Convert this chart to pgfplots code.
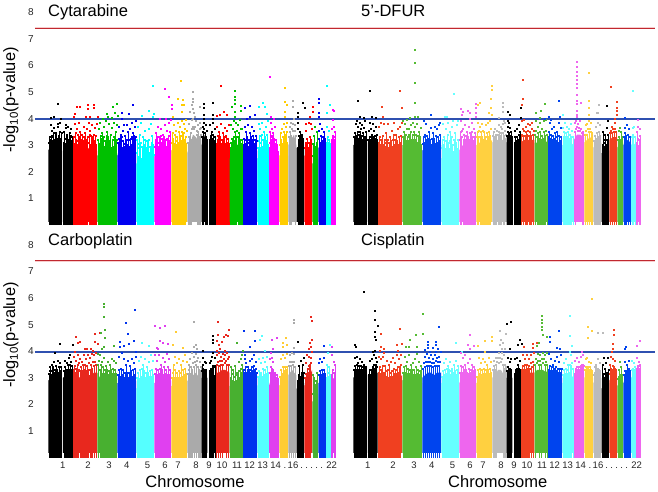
\documentclass[border=0pt]{standalone}
\usepackage{fontspec}
\setmainfont{Liberation Sans}
\usepackage{pgfplots}
\pgfplotsset{compat=1.18}
\definecolor{lred}{HTML}{C02830}
\definecolor{lhalo}{HTML}{F8CCCC}
\definecolor{lblue}{HTML}{2F50B0}
\newcommand\C[5]{\addplot[fill=#1,draw=none] coordinates {(#2,\base) #4 (#3,\base)};
\addplot[ycomb,mark=none,color=#1,line width=.22pt,restrict y to domain=0:3.5,unbounded coords=discard] coordinates {#5};
\addplot[only marks,mark=square*,mark size=.5pt,color=#1,mark options={color=#1,fill=#1,line width=0pt}] coordinates {#5};}
\newcommand\setpal[7]{\definecolor{R}{HTML}{#1}\definecolor{G}{HTML}{#2}\definecolor{B}{HTML}{#3}\definecolor{Y}{HTML}{#4}\definecolor{M}{HTML}{#5}\definecolor{O}{HTML}{#6}\definecolor{A}{HTML}{#7}}
\pgfplotsset{panel/.style={scale only axis,height=218.12pt,ymin=0,ymax=8.2,xmin=35,
  axis line style={draw=none},major tick length=0pt,clip=false,
  ytick=\empty,xtick=\empty,
  tick label style={font=\fontsize{10}{11}\selectfont,color=black!85,inner sep=0pt},
  /pgf/number format/assume math mode=true},
 left/.style={width=310pt,xmax=345,ytick={1,2,3,4,5,6,7,8},yticklabel style={xshift=-1pt}},
 right/.style={width=315pt,xmax=350},
 chrt/.style={xtick={62.7,88,109,126.7,147.5,165,178,196,209,222,237,249.7,262.7,275.7,285,293,301.7,306.7,311.7,316.7,321.7,331.7},
  xticklabels={1,2,3,4,5,6,7,8,9,10,11,12,13,14,.,16,.,.,.,.,.,22},
  xticklabel style={yshift=-4pt,text height=6.9pt,text depth=0pt,font=\fontsize{9.5}{11}\selectfont}}}
\newcommand\lines[1]{\addplot[lhalo,line width=2.6pt] coordinates {(35,7.4)(350,7.4)};
\addplot[lred,line width=1.1pt] coordinates {(35,7.4)(350,7.4)};
\addplot[lblue,line width=1.5pt] coordinates {(35,#1)(350,#1)};}
\begin{document}
\begin{tikzpicture}[x=1pt,y=1pt]
\useasboundingbox (0,0) rectangle (658,491);
% ---------- Cytarabine
\setpal{FF0000}{00C000}{0000F0}{00FFFF}{FF00FF}{FFCC00}{AAAAAA}
\begin{axis}[panel,left,at={(35pt,266pt)},anchor=origin]
\def\base{0.12}
\C{black}{48.3}{62}{(48.3,2.8)(51,3.0)(54,2.9)(57,3.1)(60,3.0)(62,2.8)}{(57.7,4.55)(51,4.03)(54.3,4.05)(61,4.0)(50.5,3.75)(52,3.55)(54,3.65)(56,3.4)(57.5,3.8)(58,3.7)(59.5,3.5)(60,3.85)(53,3.3)(55.5,3.45)(49,3.1)(49.5,3.3)(50.5,3.2)(51.5,3.35)(52.5,3.15)(53.5,3.45)(54.5,3.2)(55,3.1)(56.5,3.25)(57,3.15)(58.5,3.35)(59,3.2)(60.5,3.25)(61,3.1)(61.5,3.45)}
\C{black}{63}{72.7}{(63,2.8)(66,3.0)(69,2.9)(72.7,2.9)}{(64,3.5)(65.5,3.65)(67,3.4)(68,3.7)(69.5,3.45)(71,3.6)(66,3.75)(70.5,3.35)(63.5,3.1)(64.5,3.25)(65,3.05)(66.5,3.3)(67.5,3.1)(68.5,3.2)(70,3.1)(71.5,3.15)(72,3.3)}
\C{R}{73}{97}{(73,2.7)(76,2.9)(79,2.8)(82,2.9)(85,2.7)(88,2.9)(91,2.8)(94,2.9)(97,2.8)}{(74.7,4.17)(74,4.05)(77,4.43)(80.3,4.43)(88.3,4.37)(87.7,4.5)(94.3,4.5)(94.3,4.38)(86,4.05)(90,4.05)(97.7,4.07)(75,3.8)(77,3.6)(79,3.85)(80,3.5)(82,3.4)(83.5,3.7)(85,3.45)(87,3.6)(88.5,3.85)(90,3.55)(92,3.75)(93.5,3.4)(95,3.65)(96.5,3.8)(78,3.4)(91,3.35)(73.5,3.3)(74.5,3.05)(75.5,3.45)(76,3.2)(77,3.0)(78,3.15)(79,3.3)(79.5,3.05)(81,3.2)(81.5,3.0)(83,3.15)(84,3.3)(84.5,2.95)(86,3.2)(86.5,3.0)(87.5,3.3)(89,3.1)(89.5,3.4)(90.5,3.0)(91.5,3.15)(92.5,3.3)(93,3.0)(94.5,3.15)(95.5,3.35)(96,3.0)}
\C{G}{97.3}{117}{(97.3,2.6)(100,2.7)(103,2.6)(106,2.7)(109,2.5)(112,2.7)(115,2.6)(117,2.7)}{(106.7,4.17)(117.3,4.55)(113.3,4.45)(115,4.2)(103,4.0)(108.3,4.05)(111.7,4.03)(118,4.1)(98.5,3.6)(100,3.85)(102,3.45)(104,3.7)(105.5,3.9)(107,3.5)(109,3.8)(110.5,3.4)(112,3.65)(114,3.85)(115.5,3.5)(116.5,3.75)(101,3.25)(108,3.3)(98,3.2)(98.5,2.9)(99.5,3.05)(100.5,3.35)(101.5,2.85)(102.5,3.1)(103.5,3.3)(104,2.95)(105,3.15)(106,2.85)(106.5,3.35)(107.5,3.05)(108.5,2.85)(109.5,3.15)(110,3.0)(111,2.9)(112.5,3.2)(113,2.95)(114,3.3)(115,3.0)(116,2.85)(116.5,3.2)}
\C{B}{117.3}{136}{(117.3,2.6)(120,2.8)(123,2.6)(126,2.8)(129,2.7)(132,2.9)(136,2.7)}{(122,4.22)(129,4.17)(133.3,4.5)(121.7,3.98)(119,3.7)(120.5,3.4)(122.5,3.55)(125,3.35)(126.5,3.75)(128,3.5)(130,3.6)(131.5,3.85)(133,3.45)(134.5,3.7)(135.5,3.9)(124,3.75)(118,3.1)(119,3.25)(119.5,2.95)(120.5,3.1)(121.5,3.3)(122,2.9)(123,3.15)(124,2.95)(125,3.05)(125.5,2.85)(126.5,3.2)(127.5,3.0)(128.5,3.2)(129.5,2.95)(130.5,3.25)(131,3.0)(132,3.3)(132.5,3.05)(133.5,3.15)(134,3.35)(135,3.1)(135.5,3.3)}
\C{Y}{136.3}{154}{(136.3,2.3)(139,2.4)(142,2.3)(145,2.4)(148,2.3)(151,2.4)(154,2.5)}{(153.3,5.24)(142,4.1)(149.3,4.28)(154,4.17)(152.7,4.07)(138,3.7)(139.5,3.4)(141,3.85)(143,3.3)(145,3.55)(147,3.15)(149,3.6)(150.5,3.8)(152,3.35)(137,3.2)(144,3.0)(148,2.95)(137,2.7)(137.5,2.9)(138.5,2.55)(139,3.05)(140,2.7)(140.5,3.1)(141.5,2.5)(142,2.95)(143,2.6)(143.5,2.8)(144.5,2.55)(145,3.2)(146,2.65)(146.5,2.9)(147.5,2.55)(148.5,3.2)(149,2.7)(150,2.95)(151,2.6)(151.5,3.1)(152.5,2.8)(153,3.0)(153.5,2.65)}
\C{M}{154.3}{171}{(154.3,2.6)(157,2.8)(160,2.6)(163,2.7)(166,2.7)(169,2.9)(171,2.8)}{(164.7,5.11)(169,4.8)(172,4.5)(172,4.35)(160,4.0)(165.7,3.98)(158,3.7)(156,3.45)(159,3.3)(161,3.6)(163,3.4)(165,3.75)(167,3.55)(169,3.85)(170.5,3.95)(162,3.25)(155,2.95)(155.5,3.2)(156.5,3.05)(157,3.3)(158,2.95)(159,3.1)(160,2.9)(160.5,3.35)(161.5,3.1)(162,2.95)(163,3.15)(164,3.3)(164.5,3.0)(165.5,3.2)(166,2.95)(167,3.25)(167.5,3.05)(168.5,3.35)(169.5,3.15)(170,3.5)}
\C{O}{171.3}{187}{(171.3,2.8)(174,2.9)(177,2.8)(180,3.0)(183,3.0)(187,3.1)}{(181,5.42)(177.7,4.75)(183.3,4.7)(181.7,4.5)(184.3,4.5)(181.7,4.26)(173,4.07)(174,3.75)(176,3.55)(178,3.85)(180,3.7)(182,3.9)(184,3.8)(186,3.95)(172.5,3.45)(172,3.1)(173,3.25)(174,3.05)(175,3.4)(175.5,3.15)(176.5,3.0)(177,3.3)(178,3.1)(179,3.5)(179.5,3.2)(180.5,3.35)(181,3.15)(182,3.5)(182.5,3.25)(183.5,3.45)(184,3.2)(185,3.6)(185.5,3.3)(186.5,3.55)}
\C{A}{187.3}{201.3}{(187.3,2.7)(190,3.0)(193,3.4)(196,3.3)(199,3.1)(201.3,3.2)}{(192.7,5.0)(192.7,4.75)(193.3,4.62)(191.7,4.5)(190,4.25)(192.7,4.37)(195,4.07)(200,4.45)(194,4.2)(192,3.95)(189,3.8)(196,3.9)(198,3.75)(200,3.85)(193,4.0)(188,3.1)(189,3.3)(189.5,3.1)(190.5,3.45)(191,3.2)(191.5,3.6)(192.5,3.7)(194,3.6)(195,3.7)(196.5,3.55)(197,3.4)(198,3.5)(199,3.3)(199.5,3.6)(200.5,3.4)(201,3.65)}
\C{black}{201.7}{207.3}{(201.7,3.0)(204,3.4)(207.3,3.0)}{(203.7,4.55)(203.7,4.38)(203.7,4.13)(203.7,4.0)(204,3.85)(202.5,3.7)(205.5,3.75)(206.5,3.55)(202,3.3)(203,3.5)(204,3.6)(205,3.45)(206,3.3)(207,3.2)}
\C{black}{209}{215.7}{(209,2.9)(212,3.0)(215.7,2.9)}{(213.3,4.57)(213.3,4.13)(213.3,4.0)(210,3.75)(211.5,3.5)(212.5,3.85)(214.5,3.6)(209.5,3.2)(210.5,3.35)(211,3.15)(212,3.25)(213,3.4)(214,3.15)(215,3.3)}
\C{R}{216}{229.3}{(216,2.8)(219,2.9)(222,2.8)(225,2.9)(229.3,2.8)}{(221,5.21)(217,4.1)(220,4.13)(224,4.26)(226.7,4.13)(217,3.7)(219,3.5)(221,3.8)(223,3.45)(225,3.65)(227,3.55)(228.5,3.75)(218,3.35)(216.5,3.05)(217.5,3.2)(218.5,3.0)(219.5,3.15)(220,3.3)(221,3.05)(222,3.2)(222.5,3.0)(223.5,3.15)(224.5,3.3)(225.5,3.05)(226,3.35)(227,3.1)(228,3.25)(229,3.05)}
\C{G}{229.7}{242.7}{(229.7,2.5)(232,2.7)(235,3.1)(238,3.0)(241,2.8)(242.7,2.6)}{(234.7,5.05)(235.3,4.82)(235.3,4.7)(235.3,4.55)(240.7,4.47)(232.3,4.42)(235,4.25)(235,4.07)(240.7,4.3)(231,3.75)(233,3.6)(234,3.9)(236,3.85)(238,3.75)(239.5,3.95)(241.5,3.6)(230.5,2.9)(231,3.1)(232,3.25)(232.5,2.95)(233.5,3.3)(234,3.15)(235,3.5)(236,3.3)(237,3.55)(238,3.3)(239,3.45)(240,3.2)(240.5,3.6)(241,3.05)(242,3.2)}
\C{B}{243}{257}{(243,2.7)(246,2.8)(249,2.7)(252,2.8)(255,2.7)(257,2.8)}{(250,4.47)(245.3,4.38)(255,4.13)(250,4.07)(246.7,4.0)(244.5,3.7)(246,3.5)(248,3.75)(250,3.45)(252,3.7)(254,3.55)(256,3.35)(247,3.3)(243.5,3.0)(244,3.25)(245,3.05)(246,3.2)(246.5,2.95)(247.5,3.1)(248,2.95)(249,3.2)(250,3.05)(251,3.3)(251.5,3.0)(252.5,3.2)(253,3.35)(254,3.05)(255,3.2)(256,3.0)(256.5,3.15)}
\C{Y}{257.3}{268.7}{(257.3,2.5)(260,2.6)(263,2.7)(266,2.6)(268.7,2.6)}{(263,4.58)(258.7,4.45)(265,4.45)(266.7,4.17)(258.5,3.8)(260,3.6)(262,3.85)(264,3.5)(266,3.7)(267.5,3.9)(258,2.9)(259,3.15)(259.5,3.35)(260.5,2.9)(261,3.1)(261.5,3.4)(262.5,2.95)(263,3.2)(264,3.0)(265,3.3)(265.5,2.95)(266.5,3.15)(267,3.4)(268,3.0)}
\C{M}{269}{279}{(269,2.5)(272,2.7)(275,2.6)(279,2.5)}{(269.7,5.56)(270.7,4.07)(274,3.97)(271,3.85)(272,3.6)(273,3.45)(274.5,3.7)(270,3.5)(276,3.2)(269.5,2.9)(270,3.1)(270.5,3.3)(271,2.95)(271.5,3.2)(272,3.35)(273,3.0)(274,3.25)(274.5,2.9)(275,3.05)(276,2.8)(277,3.0)(278,2.75)}
\C{O}{279.3}{288}{(279.3,2.6)(282,2.7)(285,3.0)(288,2.6)}{(285,5.14)(285,4.63)(287.3,4.5)(285,4.26)(285,4.07)(284,3.8)(286,3.7)(282,3.6)(280.5,3.45)(287,3.85)(280,3.0)(281,3.2)(282,3.05)(283,3.3)(283.5,3.0)(284,3.5)(285,3.4)(286,3.25)(286.5,3.5)(287,3.1)}
\C{A}{288.3}{296.3}{(288.3,3.0)(291,3.2)(294,3.4)(296.3,3.0)}{(293.3,4.68)(293.3,4.45)(294,4.0)(291,3.85)(289.5,3.7)(293,3.8)(295,3.75)(289,3.3)(290,3.5)(291,3.35)(292,3.6)(293,3.55)(294.5,3.55)(295.5,3.35)}
\C{black}{296.7}{304}{(296.7,2.9)(300,3.0)(304,2.9)}{(302.7,4.6)(304.7,4.4)(297.7,4.2)(298,4.05)(298,3.85)(300,3.5)(302,3.4)(297.5,3.6)(298.5,3.2)(299,3.35)(300,3.15)(301,3.3)(302,3.1)(303,3.25)}
\C{R}{304.3}{312}{(304.3,2.6)(308,2.7)(312,3.0)}{(312.7,4.45)(310,4.05)(312.7,4.26)(306,3.8)(308.5,3.85)(311,3.8)(305.5,3.55)(311.5,3.6)(305,2.9)(305.5,3.1)(306.5,3.0)(307,3.25)(308,2.9)(309,3.1)(310,3.3)(310.5,3.0)(311,3.2)}
\C{G}{312.3}{318}{(312.3,2.3)(315,2.4)(318,2.5)}{(315,3.7)(314,3.35)(316.5,3.1)(313,3.05)(317,3.5)(313,2.6)(313.5,2.8)(314.5,2.65)(315,2.95)(316,2.7)(317,2.85)}
\C{B}{318.3}{325.7}{(318.3,2.9)(322,3.0)(325.7,3.0)}{(319.3,4.72)(319.3,4.6)(319.3,4.2)(319.3,4.05)(320,3.8)(322,3.6)(324,3.5)(318.7,3.55)(319,3.25)(320,3.1)(321,3.35)(322,3.15)(323,3.3)(324,3.15)(325,3.25)}
\C{Y}{326}{330.7}{(326,2.8)(328,3.0)(330.7,2.9)}{(327.3,5.22)(330,4.5)(327.3,4.22)(327,3.7)(329,3.55)(326.5,3.1)(327.5,3.3)(328,3.1)(329,3.2)(330,3.05)}
\C{M}{331}{335.7}{(331,2.9)(333,3.1)(335.7,3.0)}{(333.3,4.32)(334.3,4.28)(332.7,3.95)(332,3.6)(334,3.7)(335,3.5)(331.5,3.2)(332.5,3.35)(333.5,3.3)(334.5,3.2)(335,3.3)}
\lines{3.98}
\end{axis}
% ---------- 5'-DFUR
\setpal{F04020}{55BB33}{0044EE}{66FFFF}{EE66EE}{FFD040}{BBBBBB}
\begin{axis}[panel,right,at={(340pt,266pt)},anchor=origin]
\def\base{0.12}
\C{black}{48.3}{62}{(48.3,3.0)(51,3.1)(54,3.0)(57,3.1)(60,3.0)(62,3.1)}{(53,4.66)(55,4.07)(59.3,4.03)(51,3.8)(52,3.9)(53,3.7)(54.5,3.85)(56,3.6)(57,3.75)(59,3.65)(60,3.9)(55,3.5)(49,3.3)(50,3.45)(50.5,3.2)(51.5,3.35)(52.5,3.5)(53,3.25)(54,3.4)(55.5,3.2)(56.5,3.35)(57.5,3.2)(58,3.45)(59,3.25)(60,3.3)(61,3.5)(61.5,3.2)}
\C{black}{63}{72.7}{(63,2.9)(66,3.1)(69,3.1)(72.7,3.0)}{(65,5.04)(66.7,4.07)(70.7,4.03)(65,3.85)(66,3.6)(67.5,3.8)(69,3.55)(71,3.7)(64,3.55)(63.5,3.2)(64.5,3.3)(65.5,3.2)(66.5,3.4)(67.5,3.3)(68.5,3.25)(69.5,3.35)(70.5,3.25)(71.5,3.4)(72,3.2)}
\C{R}{73}{97}{(73,2.8)(76,2.7)(79,2.7)(82,2.6)(85,2.6)(88,2.7)(91,2.7)(94,2.8)(97,2.9)}{(94.7,5.04)(76.7,4.45)(96.7,4.4)(78,4.05)(74,3.7)(76,3.85)(79,3.8)(81,3.45)(83,3.8)(85,3.3)(87,3.55)(89,3.85)(91,3.4)(93,3.6)(95,3.7)(96.5,3.85)(73.5,3.1)(74.5,3.3)(75,3.0)(76,3.2)(77,2.95)(77.5,3.35)(78.5,3.0)(79.5,3.2)(80,2.95)(81,3.1)(82,2.85)(82.5,3.2)(83.5,2.9)(84,3.1)(85.5,2.9)(86,3.15)(87,2.95)(88,3.2)(88.5,3.4)(89.5,3.0)(90,3.2)(91,2.95)(92,3.15)(93,3.0)(94,3.3)(95,3.1)(96,3.35)}
\C{G}{97.3}{117}{(97.3,3.0)(100,3.0)(103,2.9)(106,2.8)(109,2.9)(112,3.0)(115,2.9)(117,2.8)}{(109.7,6.59)(109.7,6.08)(109.7,5.33)(109.7,4.57)(105,4.03)(110,4.07)(112.7,4.07)(98,3.9)(100,3.8)(102,3.95)(104,3.6)(106,3.75)(108,3.85)(110,3.7)(112,3.8)(114,3.5)(116,3.65)(98,3.3)(99,3.5)(99.5,3.2)(100.5,3.4)(101,3.15)(102,3.6)(102.5,3.3)(103.5,3.15)(104,3.4)(105,3.1)(105.5,3.5)(106.5,3.2)(107,3.05)(107.5,3.4)(108.5,3.2)(109,3.5)(110.5,3.2)(111,3.4)(112,3.1)(113,3.35)(113.5,3.1)(114.5,3.05)(115,3.3)(116,3.0)}
\C{B}{117.3}{136}{(117.3,2.8)(120,2.9)(123,2.8)(126,2.8)(129,2.8)(132,2.9)(136,3.0)}{(126,4.15)(119,3.9)(121,3.8)(124,3.5)(126,3.65)(128,3.45)(130,3.7)(132,3.6)(134,3.75)(135,3.85)(122,3.35)(118,3.05)(118.5,3.3)(119.5,3.1)(120,3.4)(121,3.2)(122,3.05)(123,3.25)(124,3.05)(125,3.2)(126,3.0)(127,3.25)(128,3.05)(129,3.25)(130,3.05)(131,3.35)(132,3.1)(133,3.3)(134,3.15)(135,3.4)}
\C{Y}{136.3}{154}{(136.3,2.5)(139,2.6)(142,2.7)(145,2.6)(148,2.5)(151,2.6)(154,2.7)}{(149,4.93)(140,4.07)(142.3,4.07)(148,3.9)(138,3.8)(141,3.6)(143,3.85)(145,3.5)(147,3.7)(150,3.45)(152,3.75)(153,3.9)(137,2.9)(137.5,3.2)(138.5,3.0)(139,3.3)(140,2.85)(141,3.15)(142,2.95)(142.5,3.4)(143.5,3.1)(144,2.85)(145,3.15)(146,2.8)(146.5,3.3)(147.5,3.0)(148.5,2.75)(149,3.2)(150,2.9)(151,3.1)(152,2.85)(153,3.2)}
\C{M}{154.3}{171}{(154.3,2.8)(157,3.0)(160,2.9)(163,2.9)(166,2.9)(169,3.0)(171,3.0)}{(156,4.36)(158.3,4.26)(163.3,4.3)(157.3,4.13)(165.3,4.2)(170.7,4.55)(170.7,4.38)(171,4.2)(171,4.05)(165,4.0)(156,3.9)(158,3.6)(160,3.75)(162,3.5)(164,3.7)(167,3.85)(169,3.6)(155,3.2)(155.5,3.5)(156.5,3.3)(157,3.55)(158.5,3.2)(159,3.4)(160,3.2)(161,3.35)(162,3.15)(163,3.3)(164,3.2)(165,3.45)(166,3.15)(166.5,3.5)(167.5,3.3)(168,3.15)(169,3.3)(170,3.45)}
\C{O}{171.3}{187}{(171.3,3.0)(174,3.1)(177,3.1)(180,2.9)(183,3.0)(187,3.2)}{(186.7,5.21)(186.7,5.08)(186,4.72)(175,4.57)(173.3,4.5)(186,4.38)(184.3,4.2)(186.7,4.15)(173,3.85)(175,3.7)(177,3.8)(179,3.5)(181,3.75)(183,3.85)(185,3.9)(172,3.3)(172.5,3.5)(173.5,3.3)(174,3.55)(175,3.3)(176,3.5)(177,3.3)(178,3.55)(178.5,3.2)(179.5,3.1)(180.5,3.3)(181,3.15)(182,3.45)(183,3.3)(184,3.5)(185,3.35)(186,3.6)}
\C{A}{187.3}{201.3}{(187.3,3.1)(190,3.2)(193,3.2)(196,3.2)(199,3.2)(201.3,3.3)}{(198.3,4.58)(198.3,4.45)(198.3,4.26)(194,4.03)(199,3.9)(194,3.75)(190,3.6)(196,3.7)(198,3.8)(200,3.85)(188,3.35)(188.5,3.5)(189,3.3)(190.5,3.4)(191,3.3)(192,3.55)(193,3.4)(194,3.5)(195,3.35)(196,3.45)(197,3.6)(198,3.45)(199,3.35)(200,3.55)(201,3.4)}
\C{black}{201.7}{207.3}{(201.7,3.1)(204,3.3)(207.3,3.1)}{(203.3,4.26)(205,4.13)(204,3.85)(203,3.7)(205,3.65)(202.5,3.9)(202,3.35)(203,3.5)(204,3.45)(205,3.35)(206,3.5)(207,3.3)}
\C{black}{209}{215.7}{(209,2.8)(212,3.0)(215.7,3.0)}{(216,4.4)(215.7,4.03)(210,3.55)(212,3.6)(214,3.75)(215,3.5)(209.5,3.1)(210,3.3)(211,3.15)(212,3.3)(213,3.2)(214,3.4)(215,3.2)}
\C{R}{216}{229.3}{(216,3.1)(219,3.2)(222,3.2)(225,3.2)(229.3,3.2)}{(218.3,5.47)(218.3,4.75)(216.7,4.5)(217,3.9)(219,3.95)(221,3.7)(223,3.8)(225,3.75)(227,3.85)(216.5,3.4)(217.5,3.6)(218,3.35)(219,3.55)(220,3.35)(221,3.5)(222,3.4)(223,3.55)(224,3.35)(225,3.5)(226,3.35)(227,3.6)(228,3.4)(229,3.55)}
\C{G}{229.7}{242.7}{(229.7,3.1)(232,3.1)(235,3.0)(238,3.0)(241,3.1)(242.7,3.2)}{(235.7,4.3)(239.7,4.56)(230.7,4.2)(235,4.03)(231,3.9)(233,3.7)(235,3.85)(237,3.6)(239,3.9)(241,3.95)(230,3.4)(231,3.55)(232,3.3)(233,3.45)(234,3.25)(235,3.5)(236,3.2)(237,3.35)(238,3.25)(239,3.5)(240,3.35)(241,3.55)(242,3.4)}
\C{B}{243}{257}{(243,3.0)(246,3.0)(249,3.0)(252,2.9)(255,2.9)(257,3.0)}{(253.7,4.66)(244,4.05)(255,4.07)(240,4.0)(245,3.85)(247,3.6)(249,3.7)(252,3.5)(254,3.85)(255.5,3.65)(246,3.95)(243.5,3.3)(244,3.5)(245,3.25)(246,3.4)(247,3.2)(248,3.35)(249,3.25)(250,3.45)(251,3.15)(252,3.3)(253,3.1)(254,3.35)(255,3.15)(256,3.3)}
\C{Y}{257.3}{268.7}{(257.3,3.0)(260,3.1)(263,3.1)(266,3.1)(268.7,3.0)}{(258.3,4.13)(260,3.85)(262,3.7)(264,3.6)(266,3.8)(258,3.65)(258.5,3.3)(259,3.5)(260,3.3)(261,3.45)(262,3.3)(263,3.5)(264,3.25)(265,3.4)(266,3.3)(267,3.55)(268,3.3)}
\C{M}{269}{279}{(269,3.2)(272,3.4)(275,3.4)(279,3.3)}{(272,6.14)(272,5.95)(272,5.75)(272,5.6)(272,5.45)(272,5.3)(272,5.15)(272,4.9)(272,4.68)(272,4.55)(272,4.3)(272,4.15)(272,4.05)(275.7,4.6)(271,3.9)(273,3.8)(275,3.9)(270,3.85)(270,3.5)(271,3.6)(272,3.7)(273,3.55)(274,3.65)(275,3.55)(276,3.6)(277,3.45)(278,3.5)}
\C{O}{279.3}{288}{(279.3,3.1)(282,3.2)(285,3.3)(288,3.2)}{(284.3,5.7)(284.3,4.66)(284.3,4.38)(284.3,4.13)(284,3.9)(282,3.8)(286,3.85)(280.5,3.75)(280,3.4)(281,3.55)(282,3.4)(283,3.6)(284,3.5)(285,3.6)(286,3.5)(287,3.45)}
\C{A}{288.3}{296.3}{(288.3,2.9)(292,3.1)(296.3,3.1)}{(294.3,4.5)(291.7,4.22)(293.3,4.2)(291,3.7)(293,3.85)(295,3.75)(289,3.15)(290,3.35)(291,3.25)(292,3.45)(293,3.3)(294,3.5)(295,3.35)}
\C{black}{296.7}{304}{(296.7,2.7)(300,2.8)(304,2.8)}{(302.3,4.47)(303,3.9)(298,3.5)(300,3.4)(301.5,3.65)(303,3.4)(297.5,3.0)(298.5,3.2)(299,2.95)(300,3.1)(301,3.0)(302,3.2)(303,3.05)}
\C{R}{304.3}{312}{(304.3,3.2)(308,3.3)(312,3.3)}{(305.7,5.18)(311.7,4.62)(311.7,4.4)(311.5,4.28)(311.5,4.15)(310,4.0)(310,3.85)(306.5,3.7)(308,3.6)(305,3.45)(306,3.55)(307,3.45)(309,3.5)(310,3.6)(311,3.5)}
\C{G}{312.3}{318}{(312.3,2.9)(315,3.1)(318,3.1)}{(315,3.65)(316,3.5)(314,3.55)(313,3.2)(314,3.3)(315,3.2)(317,3.3)}
\C{B}{318.3}{325.7}{(318.3,3.0)(322,3.2)(325.7,3.1)}{(320.3,4.02)(320,3.65)(322,3.75)(324,3.6)(319,3.3)(320,3.45)(321,3.35)(323,3.4)(325,3.3)}
\C{Y}{326}{330.7}{(326,3.0)(328,3.1)(330.7,3.0)}{(327.7,5.05)(327.5,3.65)(329,3.7)(327,3.3)(328,3.4)(330,3.3)}
\C{M}{331}{335.7}{(331,2.8)(333,3.0)(335.7,3.0)}{(333.3,3.95)(333,3.7)(334.5,3.6)(332,3.5)(331.5,3.1)(332.5,3.25)(334,3.2)(335,3.35)}
\lines{3.98}
\end{axis}
% ---------- Carboplatin
\setpal{E8281E}{48B030}{0033EE}{55FFFF}{E040F0}{FFCC33}{AAAAAA}
\begin{axis}[panel,left,chrt,at={(35pt,33.3pt)},anchor=origin]
\def\base{0.18}
\C{black}{48.3}{62}{(48.3,2.9)(51,3.0)(54,3.1)(57,3.0)(60,3.1)(62,3.0)}{(60.3,4.28)(55,3.92)(50,3.4)(52,3.5)(54,3.6)(56,3.45)(58,3.65)(60,3.55)(61,3.4)(49,3.15)(50,3.25)(51,3.1)(52,3.25)(53,3.4)(54,3.2)(55,3.3)(56,3.15)(57,3.3)(58,3.2)(59,3.4)(60,3.25)(61,3.2)}
\C{black}{63}{72.7}{(63,3.0)(66,3.1)(69,3.1)(72.7,3.1)}{(73,4.24)(70,3.85)(69,3.75)(65,3.65)(67,3.55)(71,3.6)(64,3.25)(65,3.4)(66,3.25)(67,3.3)(68,3.5)(69,3.3)(70,3.5)(71,3.3)(72,3.45)}
\C{R}{73}{97}{(73,3.0)(76,3.1)(79,3.0)(82,3.1)(85,3.0)(88,3.1)(91,3.1)(94,3.2)(97,3.2)}{(75.7,4.55)(80,4.35)(78.3,4.3)(95,4.66)(100,4.7)(95,4.36)(98.3,4.28)(85,4.1)(87.3,4.1)(90.7,4.07)(92.7,4.03)(75,3.98)(74,3.8)(76,3.65)(78,3.85)(80,3.7)(82,3.6)(84,3.85)(86,3.7)(88,3.85)(90,3.75)(92,3.9)(94,3.85)(96,3.95)(73.5,3.3)(74.5,3.45)(75,3.2)(76,3.35)(77,3.2)(77.5,3.5)(78.5,3.3)(79,3.55)(80,3.25)(81,3.4)(82,3.25)(83,3.5)(84,3.3)(85,3.5)(86,3.25)(87,3.45)(88,3.3)(89,3.55)(90,3.3)(91,3.5)(92,3.35)(93,3.6)(94,3.45)(95,3.6)(96,3.5)}
\C{G}{97.3}{117}{(97.3,3.2)(100,3.0)(103,2.9)(106,2.9)(109,2.9)(112,2.9)(115,2.9)(117,3.0)}{(104,5.78)(104,5.68)(104,5.3)(105,4.8)(100.7,4.7)(105,4.49)(104,4.17)(101.7,4.08)(114,4.2)(98,3.9)(100,3.85)(102,3.6)(104,3.75)(106,3.45)(108,3.6)(110,3.5)(112,3.7)(114,3.65)(116,3.55)(98,3.5)(99,3.65)(100,3.3)(101,3.5)(102,3.15)(103,3.4)(104,3.15)(105,3.3)(106,3.1)(107,3.3)(108,3.1)(109,3.25)(110,3.05)(111,3.3)(112,3.15)(113,3.35)(114,3.15)(115,3.3)(116,3.15)}
\C{B}{117.3}{136}{(117.3,2.8)(120,2.8)(123,2.8)(126,2.7)(129,2.8)(132,2.8)(136,2.9)}{(135,5.55)(125.7,5.08)(128,4.64)(120,4.36)(124,4.2)(129.3,4.26)(134,4.4)(120,4.17)(136,3.97)(119,3.8)(122,3.95)(124,3.7)(126,3.5)(128,3.65)(130,3.45)(132,3.7)(134,3.55)(135.5,3.8)(118,3.1)(119,3.3)(120,3.05)(121,3.35)(122,3.1)(123,3.3)(124,3.0)(125,3.2)(126,2.95)(127,3.2)(128,3.0)(129,3.2)(130,3.0)(131,3.25)(132,3.05)(133,3.3)(134,3.1)(135,3.35)}
\C{Y}{136.3}{154}{(136.3,2.6)(139,2.7)(142,2.7)(145,2.7)(148,2.7)(151,2.8)(154,2.8)}{(141.7,4.33)(149,4.2)(139,3.65)(141,3.8)(143,3.5)(145,3.7)(147,3.4)(149,3.6)(151,3.85)(153,3.65)(137,3.0)(138,3.2)(139,2.95)(140,3.3)(141,3.05)(142,3.35)(143,3.05)(144,3.25)(145,3.0)(146,3.2)(147,2.95)(148,3.2)(149,3.05)(150,3.25)(151,3.05)(152,3.3)(153,3.1)}
\C{M}{154.3}{171}{(154.3,2.8)(157,2.9)(160,2.9)(163,2.9)(166,2.9)(169,2.8)(171,2.9)}{(155.3,4.94)(159.7,4.89)(165,4.97)(160,4.4)(163.3,4.3)(168.3,4.26)(156.7,4.13)(158.3,4.1)(155,3.85)(157,3.65)(159,3.85)(161,3.5)(163,3.75)(165,3.6)(167,3.9)(169,3.7)(155,3.15)(156,3.35)(157,3.1)(158,3.3)(159,3.15)(160,3.35)(161,3.15)(162,3.3)(163,3.1)(164,3.4)(165,3.15)(166,3.3)(167,3.1)(168,3.4)(169,3.1)(170,3.3)}
\C{O}{171.3}{187}{(171.3,2.7)(174,2.7)(177,2.7)(180,2.7)(183,2.8)(187,2.9)}{(176,4.74)(173,4.24)(182.7,4.13)(175,3.8)(177,3.55)(179,3.7)(181,3.5)(183,3.65)(185,3.85)(186.5,3.6)(173.5,3.5)(172,3.0)(173,3.2)(174,3.0)(175,3.3)(176,3.0)(177,3.2)(178,3.0)(179,3.25)(180,3.0)(181,3.2)(182,3.05)(183,3.3)(184,3.1)(185,3.35)(186,3.15)}
\C{A}{187.3}{201.3}{(187.3,2.9)(190,2.9)(193,3.1)(196,3.2)(199,3.0)(201.3,3.0)}{(194,5.11)(196,4.24)(194,4.17)(196.7,4.1)(192,3.95)(194,3.8)(196,3.9)(198,3.75)(200,3.6)(190,3.7)(189,3.5)(188,3.15)(189,3.3)(190,3.15)(191,3.4)(192,3.3)(193,3.55)(194,3.4)(195,3.6)(196,3.5)(197,3.65)(198,3.4)(199,3.3)(200,3.25)(201,3.4)}
\C{black}{201.7}{207.3}{(201.7,3.0)(204,3.1)(207.3,3.0)}{(203.3,4.0)(203,3.75)(205,3.6)(206,3.55)(202.5,3.5)(202,3.25)(203,3.35)(204,3.3)(205,3.3)(206,3.3)}
\C{black}{209}{215.7}{(209,3.0)(212,3.1)(215.7,3.1)}{(213.3,4.59)(213.3,4.42)(213.3,4.3)(213,3.95)(211,3.65)(212,3.8)(214.5,3.75)(210,3.55)(209.5,3.25)(210.5,3.35)(211.5,3.3)(212.5,3.45)(213.5,3.4)(215,3.45)}
\C{R}{216}{229.3}{(216,3.2)(219,3.2)(222,3.3)(225,3.3)(229.3,3.2)}{(218,5.1)(218,4.6)(216.7,4.4)(221.7,4.34)(219.3,4.24)(224,4.55)(226,4.6)(229.3,4.8)(228.3,4.58)(220,4.1)(225,4.03)(216.7,4.03)(217,3.85)(219,3.95)(221,3.8)(223,3.9)(225,3.85)(227,3.95)(228.7,3.8)(216.5,3.5)(217.5,3.6)(218.5,3.45)(219.5,3.65)(220.5,3.5)(221.5,3.65)(222.5,3.5)(223.5,3.7)(224.5,3.55)(225.5,3.65)(226.5,3.5)(227.5,3.7)(228.5,3.5)}
\C{G}{229.7}{242.7}{(229.7,2.7)(232,2.7)(235,2.6)(238,2.7)(241,2.8)(242.7,2.9)}{(236.7,4.3)(243.3,4.0)(231,3.4)(233,3.3)(235,3.45)(237,3.2)(239,3.6)(241,3.7)(242,3.85)(230.5,3.0)(231.5,3.15)(232.5,2.9)(233.5,3.05)(234.5,2.85)(235.5,3.1)(236.5,2.9)(237.5,3.05)(238.5,3.25)(239.5,3.0)(240.5,3.35)(241.5,3.2)(242,3.5)}
\C{B}{243}{257}{(243,3.0)(246,3.0)(249,3.0)(252,3.0)(255,3.0)(257,3.0)}{(244,4.77)(255,4.77)(255,4.39)(250,4.17)(244.5,3.7)(246,3.55)(248,3.4)(250,3.65)(252,3.7)(254,3.85)(256,3.6)(245,3.85)(243.5,3.3)(244.5,3.2)(245.5,3.4)(246.5,3.2)(247.5,3.3)(248.5,3.15)(249.5,3.3)(250.5,3.2)(251.5,3.4)(252.5,3.25)(253.5,3.45)(254.5,3.3)(255.5,3.35)(256.5,3.2)}
\C{Y}{257.3}{268.7}{(257.3,2.7)(260,2.8)(263,2.8)(266,2.8)(268.7,3.0)}{(262.3,4.59)(260,4.42)(265,4.03)(259,3.7)(261,3.55)(263,3.75)(265,3.6)(267,3.8)(258,3.05)(259,3.25)(260,3.1)(261,3.2)(262,3.05)(263,3.35)(264,3.1)(265,3.3)(266,3.15)(267,3.4)(268,3.2)}
\C{M}{269}{279}{(269,2.7)(272,3.1)(275,2.7)(279,2.7)}{(271.7,4.42)(277.3,4.49)(273.3,4.1)(271,3.95)(272,3.75)(273,3.6)(270,3.7)(275,3.2)(270,3.2)(271,3.4)(272,3.35)(273,3.3)(274,3.15)(276,3.0)(277,3.1)(278,2.95)}
\C{O}{279.3}{288}{(279.3,2.7)(282,2.9)(285,3.0)(288,2.9)}{(286.3,4.51)(282.7,4.3)(282.7,4.17)(286.7,4.24)(281,3.7)(283,3.85)(285,3.75)(287,3.9)(280,3.05)(281,3.3)(282,3.15)(283,3.4)(284,3.25)(285,3.4)(286,3.3)(287,3.4)}
\C{A}{288.3}{296.3}{(288.3,3.1)(292,3.3)(296.3,3.1)}{(294,5.18)(294,5.05)(294,4.13)(292,3.95)(294,3.9)(289.5,3.85)(289,3.45)(290,3.6)(291,3.45)(292,3.6)(293,3.5)(294,3.6)(295,3.4)}
\C{black}{296.7}{304}{(296.7,2.6)(300,2.7)(304,2.8)}{(298.3,4.36)(304,3.75)(301,3.65)(299,3.45)(302.5,3.5)(297.5,2.9)(298.5,3.1)(299.5,2.9)(300.5,3.05)(301.5,3.2)(302.5,3.05)(303.5,3.2)}
\C{R}{304.3}{312}{(304.3,2.7)(308,2.9)(312,3.3)}{(310.7,5.3)(311.7,5.15)(311.7,4.42)(310,4.3)(310.7,4.17)(309.3,4.08)(311.7,3.98)(307,3.85)(309,3.8)(311,3.75)(305.5,3.55)(305,3.0)(306,3.15)(307,3.05)(307.5,3.35)(308,3.2)(309,3.45)(310,3.5)(311,3.55)}
\C{G}{312.3}{318}{(312.3,2.1)(315,2.2)(318,2.4)}{(314,3.0)(316,2.9)(313,3.1)(317,3.2)(313,2.4)(313.5,2.7)(314.5,2.5)(315,2.75)(316,2.5)(317,2.7)}
\C{B}{318.3}{325.7}{(318.3,2.8)(322,2.9)(325.7,2.9)}{(323.7,4.2)(320,3.7)(322,3.6)(324,3.75)(319,3.55)(319,3.1)(320,3.25)(321,3.1)(322,3.3)(323,3.15)(324,3.3)(325,3.15)}
\C{Y}{326}{330.7}{(326,2.6)(328,2.8)(330.7,2.7)}{(330,4.24)(328.3,3.95)(327,3.5)(329,3.4)(326.5,3.0)(327.5,3.2)(328.5,3.05)(330,3.1)}
\C{M}{331}{335.7}{(331,2.7)(333,3.0)(335.7,2.9)}{(331.7,4.17)(332,3.85)(333.5,3.6)(335,3.5)(331.5,3.1)(332.5,3.3)(334,3.2)(335,3.15)}
\lines{3.97}
\end{axis}
% ---------- Cisplatin
\setpal{F04020}{55BB33}{0044EE}{66FFFF}{EE66EE}{FFD040}{BBBBBB}
\begin{axis}[panel,right,chrt,at={(340pt,33.3pt)},anchor=origin]
\def\base{0.18}
\C{black}{48.3}{62}{(48.3,3.0)(51,3.1)(54,3.1)(57,3.1)(60,3.1)(62,3.1)}{(59.3,6.23)(50.3,4.24)(51,4.16)(50,3.75)(51.5,3.8)(53,3.55)(55,3.7)(57,3.6)(59,3.5)(61,3.4)(49,3.3)(50,3.45)(51,3.3)(52,3.5)(53,3.3)(54,3.45)(55,3.3)(56,3.45)(57,3.3)(58,3.4)(59,3.25)(60,3.35)(61,3.2)}
\C{black}{63}{72.7}{(63,2.8)(66,2.9)(69,3.1)(72.7,3.2)}{(70,5.51)(70,5.16)(72.7,4.96)(70,4.71)(70,4.55)(70.7,4.42)(67.7,3.98)(70,4.0)(65,3.65)(67,3.7)(69,3.85)(71,3.75)(72,3.6)(63.5,3.1)(64.5,3.3)(65.5,3.1)(66.5,3.3)(67.5,3.4)(68.5,3.5)(69.5,3.35)(70.5,3.5)(71.5,3.4)}
\C{R}{73}{97}{(73,2.9)(76,2.9)(79,2.9)(82,2.8)(85,2.8)(88,2.9)(91,2.9)(94,3.0)(97,3.1)}{(76,4.65)(95,4.85)(76,4.17)(79.3,4.1)(96.7,4.26)(91.7,4.24)(93.3,4.03)(79.3,3.95)(75,4.0)(74,3.8)(76,3.7)(78,3.8)(80,3.45)(82,3.65)(84,3.5)(86,3.6)(88,3.75)(90,3.55)(92,3.85)(94,3.7)(96,3.85)(73.5,3.2)(74.5,3.4)(75,3.15)(76,3.3)(77,3.1)(77.5,3.45)(78.5,3.2)(79.5,3.1)(80.5,3.25)(81.5,3.05)(82.5,3.3)(83.5,3.0)(84.5,3.2)(85.5,3.05)(86.5,3.25)(87.5,3.05)(88.5,3.35)(89.5,3.15)(90.5,3.3)(91.5,3.15)(92.5,3.4)(93.5,3.2)(94.5,3.4)(95.5,3.5)}
\C{G}{97.3}{117}{(97.3,2.9)(100,3.0)(103,2.9)(106,2.9)(109,2.8)(112,2.9)(115,2.9)(117,2.8)}{(118,5.4)(118,4.66)(111.3,4.6)(105,4.42)(101,4.15)(104.3,4.15)(112.3,4.17)(100,3.8)(102,3.6)(104,3.85)(106,3.5)(108,3.55)(110,3.7)(112,3.9)(114,3.6)(116,3.45)(98,3.2)(99,3.4)(100,3.2)(101,3.45)(102,3.15)(103,3.35)(104,3.15)(105,3.3)(106,3.1)(107,3.3)(108,3.1)(109,3.3)(110,3.1)(111,3.4)(112,3.15)(113,3.3)(114,3.1)(115,3.25)(116,3.1)}
\C{B}{117.3}{136}{(117.3,3.0)(120,3.1)(123,3.2)(126,3.2)(129,3.1)(132,3.2)(136,3.2)}{(134,4.92)(123.3,4.36)(131,4.36)(123.3,4.24)(131,4.24)(123.3,4.11)(120,4.05)(128.3,4.11)(133.3,4.09)(135.7,3.97)(131,3.97)(125,3.97)(120,3.8)(122,3.9)(124,3.75)(126,3.85)(128,3.7)(130,3.85)(132,3.75)(134,3.8)(118,3.35)(119,3.55)(120,3.4)(121,3.6)(122,3.45)(123,3.6)(124,3.45)(125,3.6)(126,3.45)(127,3.55)(128,3.4)(129,3.55)(130,3.45)(131,3.65)(132,3.45)(133,3.6)(134,3.45)(135,3.6)}
\C{Y}{136.3}{154}{(136.3,2.8)(139,2.9)(142,2.9)(145,2.9)(148,2.8)(151,2.9)(154,3.0)}{(151.3,4.32)(156.7,3.98)(139,3.55)(141,3.7)(143,3.45)(145,3.6)(147,3.35)(149,3.5)(151,3.65)(153,3.45)(137,3.05)(138,3.25)(139,3.1)(140,3.3)(141,3.15)(142,3.35)(143,3.15)(144,3.3)(145,3.1)(146,3.25)(147,3.05)(148,3.2)(149,3.05)(150,3.25)(151,3.1)(152,3.3)(153,3.15)}
\C{M}{154.3}{171}{(154.3,2.8)(157,3.0)(160,3.0)(163,2.9)(166,2.9)(169,2.9)(171,3.0)}{(165.3,4.61)(162.7,4.24)(168.7,4.21)(165.3,4.09)(156,3.95)(158,3.75)(160,3.85)(165,3.7)(163,3.55)(167,3.5)(169,3.4)(155,3.2)(156,3.45)(157,3.2)(158,3.4)(159,3.3)(160,3.5)(161,3.3)(162,3.2)(163,3.15)(164,3.35)(165,3.2)(166,3.3)(167,3.1)(168,3.25)(170,3.3)}
\C{O}{171.3}{187}{(171.3,2.8)(174,2.9)(177,2.9)(180,2.9)(183,2.9)(187,3.0)}{(187.3,4.54)(180,4.39)(187.3,4.39)(173.3,4.21)(180,3.98)(174,3.75)(176,3.55)(178,3.7)(180,3.6)(182,3.5)(184,3.75)(186,3.6)(172,3.05)(173,3.3)(174,3.15)(175,3.35)(176,3.1)(177,3.3)(178,3.15)(179,3.35)(180,3.15)(181,3.3)(182,3.1)(183,3.3)(184,3.15)(185,3.35)(186,3.2)}
\C{A}{187.3}{201.3}{(187.3,3.0)(190,3.1)(193,3.3)(196,3.3)(199,3.1)(201.3,3.2)}{(195,4.77)(200.7,4.64)(196,4.42)(195,4.24)(198.3,4.3)(196.7,4.1)(200,4.1)(194,3.95)(197,3.95)(199,3.85)(191,3.75)(189,3.65)(188,3.3)(189,3.45)(190,3.3)(191,3.5)(192,3.6)(193,3.75)(194,3.55)(195,3.75)(196,3.6)(197,3.7)(198,3.5)(199,3.35)(200,3.5)(201,3.4)}
\C{black}{201.7}{207.3}{(201.7,3.0)(204,3.1)(207.3,3.0)}{(205.7,5.09)(201.7,5.02)(205,4.1)(203,3.75)(204.5,3.6)(206,3.7)(202,3.25)(203,3.4)(204,3.25)(205,3.35)(206,3.3)}
\C{black}{209}{215.7}{(209,2.9)(212,3.1)(215.7,3.1)}{(215,4.42)(213.3,4.24)(216.7,4.27)(210,3.7)(211.5,3.75)(213,3.5)(214.5,3.65)(209.5,3.15)(210.5,3.3)(211.5,3.35)(212.5,3.3)(214,3.35)(215,3.3)}
\C{R}{216}{229.3}{(216,3.0)(219,3.1)(222,3.1)(225,3.2)(229.3,3.2)}{(219,4.15)(227.7,4.27)(227.7,4.13)(231.7,4.3)(218,3.85)(220,3.7)(222,3.85)(224,3.7)(226,3.85)(228.5,3.95)(216.5,3.3)(217.5,3.45)(218.5,3.3)(219.5,3.5)(220.5,3.3)(221.5,3.5)(222.5,3.35)(223.5,3.45)(224.5,3.35)(225.5,3.55)(226.5,3.4)(227.5,3.6)(228.5,3.5)}
\C{G}{229.7}{242.7}{(229.7,3.2)(232,3.3)(235,3.3)(238,3.3)(241,3.2)(242.7,3.3)}{(237.3,5.34)(237.3,5.18)(237.3,5.05)(237.3,4.92)(237.3,4.8)(238.3,4.6)(241.7,4.55)(245,4.35)(234.3,4.3)(231.7,4.2)(233,3.9)(235,3.85)(238,3.95)(240,3.85)(242,3.95)(230,3.5)(231,3.7)(232,3.55)(233,3.65)(234,3.5)(235,3.65)(236,3.5)(237,3.7)(238,3.55)(239,3.7)(240,3.5)(241,3.6)(242,3.5)}
\C{B}{243}{257}{(243,3.0)(246,3.0)(249,3.1)(252,3.0)(255,2.9)(257,3.0)}{(254,4.76)(244.7,4.52)(245,4.35)(251.7,4.13)(255,4.1)(244,3.9)(246,3.7)(248,3.5)(250,3.65)(252,3.8)(254,3.6)(256,3.85)(243.5,3.3)(244.5,3.45)(245.5,3.25)(246.5,3.4)(247.5,3.25)(248.5,3.35)(249.5,3.3)(250.5,3.4)(251.5,3.25)(252.5,3.35)(253.5,3.2)(254.5,3.35)(255.5,3.2)(256.5,3.35)}
\C{Y}{257.3}{268.7}{(257.3,2.8)(260,2.9)(263,2.9)(266,3.1)(268.7,3.0)}{(265,5.31)(265,4.59)(266.7,4.21)(265,3.98)(259,3.55)(261,3.7)(263,3.5)(266,3.85)(258,3.1)(259,3.3)(260,3.15)(261,3.35)(262,3.15)(263,3.3)(264,3.2)(265,3.5)(266,3.45)(267,3.55)(268,3.35)}
\C{M}{269}{279}{(269,2.8)(272,3.1)(275,3.1)(279,3.2)}{(276.7,3.97)(278,3.85)(270,3.65)(272,3.75)(274,3.6)(276,3.8)(269.5,3.15)(270.5,3.35)(271.5,3.4)(272.5,3.3)(273.5,3.4)(274.5,3.3)(275.5,3.45)(276.5,3.5)(277.5,3.5)(278.5,3.45)}
\C{O}{279.3}{288}{(279.3,3.0)(282,3.1)(285,3.1)(288,3.0)}{(287,5.96)(282.7,4.92)(287,4.76)(282.7,4.51)(282,3.75)(284,3.6)(286,3.55)(280.5,3.7)(280,3.3)(281,3.4)(282,3.35)(283,3.4)(284,3.3)(285,3.4)(286,3.3)(287,3.25)}
\C{A}{288.3}{296.3}{(288.3,2.8)(292,3.0)(296.3,3.0)}{(293.3,4.67)(297.7,4.7)(291,3.5)(293,3.7)(295,3.55)(290,3.4)(289,3.1)(290,3.2)(291,3.2)(292,3.3)(293,3.35)(294,3.3)(295,3.25)}
\C{black}{296.7}{304}{(296.7,2.6)(300,2.8)(304,2.8)}{(299,3.75)(301,3.55)(303,3.75)(297.5,3.5)(300,3.35)(297.5,2.9)(298.5,3.15)(299.5,3.0)(300.5,3.1)(301.5,3.2)(302.5,3.1)(303.5,3.3)}
\C{R}{304.3}{312}{(304.3,2.9)(308,3.1)(312,3.0)}{(308.7,4.8)(308.7,4.6)(308,4.26)(307.7,4.1)(307.3,3.98)(306,3.8)(308,3.7)(310,3.65)(305,3.5)(305,3.15)(306,3.35)(307,3.3)(308,3.45)(309,3.4)(310,3.35)(311,3.3)}
\C{G}{312.3}{318}{(312.3,2.7)(315,2.8)(318,2.9)}{(315,3.6)(316,3.4)(314,3.3)(313,2.95)(314,3.05)(315,3.05)(316,3.1)(317,3.1)}
\C{B}{318.3}{325.7}{(318.3,2.8)(322,3.0)(325.7,3.0)}{(321,4.17)(320,4.1)(320,3.6)(322,3.5)(324,3.65)(319,3.1)(320,3.25)(321,3.2)(322,3.25)(323,3.3)(324,3.35)(325,3.25)}
\C{Y}{326}{330.7}{(326,3.0)(328,3.1)(330.7,3.1)}{(327,3.65)(329,3.55)(327,3.3)(328,3.35)(329,3.3)(330,3.4)}
\C{M}{331}{335.7}{(331,3.1)(333,3.2)(335.7,3.1)}{(334.7,4.4)(331.7,4.2)(332,3.75)(334,3.6)(331.5,3.35)(332.5,3.45)(333.5,3.45)(334.5,3.35)(335,3.5)}
\lines{3.97}
\end{axis}
% ---------- text
\node[anchor=base west,inner sep=0pt,font=\fontsize{16.5}{18}\selectfont] at (48,491-16.7) {Cytarabine};
\node[anchor=base west,inner sep=0pt,font=\fontsize{16.5}{18}\selectfont] at (361,491-16.7) {5’-DFUR};
\node[anchor=base west,inner sep=0pt,font=\fontsize{16.5}{18}\selectfont] at (48,491-245) {Carboplatin};
\node[anchor=base west,inner sep=0pt,font=\fontsize{16.5}{18}\selectfont] at (361,491-245) {Cisplatin};
\node[rotate=90,inner sep=0pt,font=\fontsize{16.4}{18}\selectfont] at (11,491-100) {-log\textsubscript{10}(p-value)};
\node[rotate=90,inner sep=0pt,font=\fontsize{16.4}{18}\selectfont] at (11,491-335) {-log\textsubscript{10}(p-value)};
\node[inner sep=0pt,font=\fontsize{16.5}{18}\selectfont] at (195,491-482) {Chromosome};
\node[inner sep=0pt,font=\fontsize{16.5}{18}\selectfont] at (497.7,491-482) {Chromosome};
\end{tikzpicture}
\end{document}
